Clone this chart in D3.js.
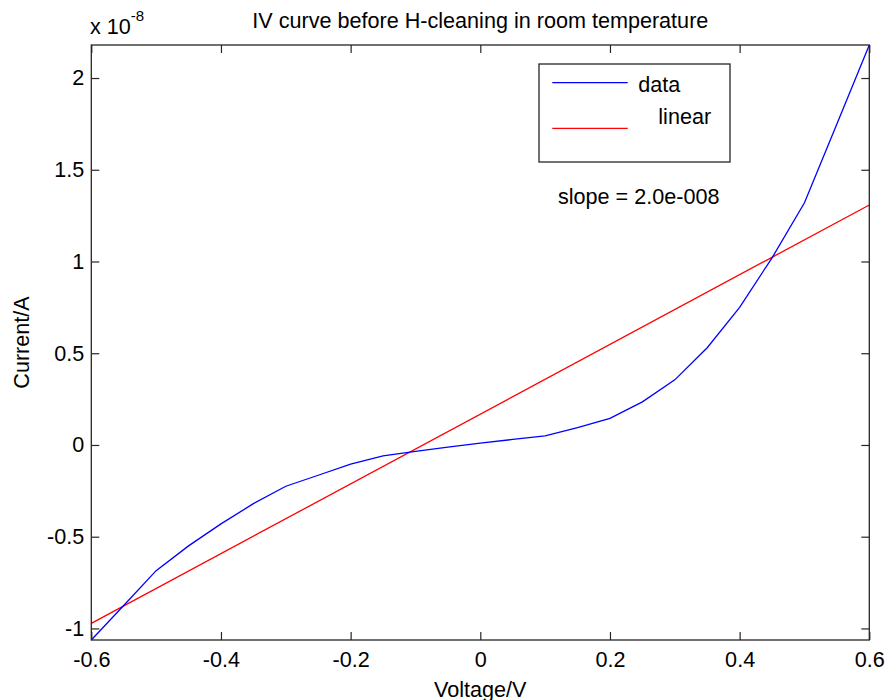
<!DOCTYPE html>
<html>
<head>
<meta charset="utf-8">
<script src="https://cdn.jsdelivr.net/npm/d3@7"></script>
<style>
  html, body { margin: 0; padding: 0; background: #fff; }
  svg { display: block; font-family: "Liberation Sans", Arial, sans-serif; }
</style>
</head>
<body>
<svg id="chart" width="886" height="700"></svg>
<script>
// Measured I-V sweep (current in units of 1e-8 A)
const voltage = [-0.6, -0.55, -0.5, -0.45, -0.4, -0.35, -0.3, -0.25, -0.2, -0.15, -0.1, -0.05,
                 0, 0.05, 0.1, 0.15, 0.2, 0.25, 0.3, 0.35, 0.4, 0.45, 0.5, 0.55, 0.6];
const current = [-1.063, -0.875, -0.685, -0.55, -0.43, -0.32, -0.225, -0.165, -0.105, -0.06, -0.035, -0.012,
                 0.01, 0.03, 0.05, 0.095, 0.145, 0.235, 0.355, 0.53, 0.75, 1.02, 1.32, 1.75, 2.18];

// Linear fit of the sweep (current in units of 1e-8 A)
const fitSlope = 1.9;
const fitIntercept = 0.168;
const fitVoltage = [-0.6, 0.6];

const xTicks = [-0.6, -0.4, -0.2, 0, 0.2, 0.4, 0.6];
const yTicks = [-1, -0.5, 0, 0.5, 1, 1.5, 2];
const yDomain = [-1.063, 2.18];

const legendLabels = ["data", "linear"];
const seriesColors = ["#0000ff", "#ff0000"];
const titleText = "IV curve before H-cleaning in room temperature";
const slopeText = "slope = 2.0e-008";

(function draw() {
  const svg = d3.select("#chart");
  const pl = 91.3, pr = 869.3, pt = 45, pb = 640;
  const x = d3.scaleLinear().domain([-0.6, 0.6]).range([pl, pr]);
  const y = d3.scaleLinear().domain(yDomain).range([pb, pt]);

  const axisColor = "#262626";
  const fontSize = 21.6;
  const tickLen = 8;

  // series
  const line = d3.line().x(d => x(d[0])).y(d => y(d[1]));
  svg.append("path")
    .datum(fitVoltage.map(v => [v, fitIntercept + fitSlope * v]))
    .attr("d", line).attr("fill", "none")
    .attr("stroke", seriesColors[1]).attr("stroke-width", 1.3);
  svg.append("path")
    .datum(voltage.map((v, i) => [v, current[i]]))
    .attr("d", line).attr("fill", "none")
    .attr("stroke", seriesColors[0]).attr("stroke-width", 1.3);

  // axes with inward ticks on all four sides
  function styleAxis(g) {
    g.select(".domain").remove();
    g.selectAll(".tick line").attr("stroke", axisColor).attr("stroke-width", 1.2);
    g.selectAll(".tick text").attr("fill", "#000").attr("font-size", fontSize)
      .attr("font-family", "Liberation Sans, Arial, sans-serif");
  }
  const fmt = d => String(d);

  svg.append("g").attr("transform", `translate(0,${pb})`)
    .call(d3.axisBottom(x).tickValues(xTicks).tickFormat(fmt).tickSizeInner(-tickLen).tickSizeOuter(0).tickPadding(12))
    .call(styleAxis);
  svg.append("g").attr("transform", `translate(0,${pt})`)
    .call(d3.axisTop(x).tickValues(xTicks).tickFormat("").tickSizeInner(-tickLen).tickSizeOuter(0))
    .call(styleAxis);
  svg.append("g").attr("transform", `translate(${pl},0)`)
    .call(d3.axisLeft(y).tickValues(yTicks).tickFormat(fmt).tickSizeInner(-tickLen).tickSizeOuter(0).tickPadding(7))
    .call(styleAxis);
  svg.append("g").attr("transform", `translate(${pr},0)`)
    .call(d3.axisRight(y).tickValues(yTicks).tickFormat("").tickSizeInner(-tickLen).tickSizeOuter(0))
    .call(styleAxis);

  // frame
  svg.append("rect").attr("x", pl).attr("y", pt)
    .attr("width", pr - pl).attr("height", pb - pt)
    .attr("fill", "none").attr("stroke", axisColor).attr("stroke-width", 1.3);

  // exponent marker
  const expo = svg.append("text").attr("x", 90).attr("y", 34)
    .attr("font-size", fontSize).attr("fill", "#000");
  expo.append("tspan").text("x 10");
  expo.append("tspan").attr("dy", -13).attr("font-size", 15).text("-8");

  // title and axis labels
  svg.append("text").attr("x", (pl + pr) / 2).attr("y", 28)
    .attr("text-anchor", "middle").attr("font-size", fontSize).attr("fill", "#000").text(titleText);
  svg.append("text").attr("x", (pl + pr) / 2).attr("y", 697)
    .attr("text-anchor", "middle").attr("font-size", fontSize).attr("fill", "#000").text("Voltage/V");
  svg.append("text").attr("transform", `translate(29,${(pt + pb) / 2}) rotate(-90)`)
    .attr("text-anchor", "middle").attr("font-size", fontSize).attr("fill", "#000").text("Current/A");

  // legend
  const lg = svg.append("g");
  lg.append("rect").attr("x", 539).attr("y", 64).attr("width", 191).attr("height", 98)
    .attr("fill", "#fff").attr("stroke", axisColor).attr("stroke-width", 1.3);
  const legendRows = [
    { lineY: 82.7, textX: 638.3, textY: 91.5 },
    { lineY: 128.3, textX: 658.3, textY: 123.5 }
  ];
  legendLabels.forEach((lab, i) => {
    lg.append("line").attr("x1", 552.3).attr("x2", 627.7)
      .attr("y1", legendRows[i].lineY).attr("y2", legendRows[i].lineY)
      .attr("stroke", seriesColors[i]).attr("stroke-width", 1.3);
    lg.append("text").attr("x", legendRows[i].textX).attr("y", legendRows[i].textY)
      .attr("font-size", fontSize).attr("fill", "#000").text(lab);
  });

  // fit annotation
  svg.append("text").attr("x", 558).attr("y", 203.5)
    .attr("font-size", fontSize).attr("fill", "#000").text(slopeText);
})();
</script>
</body>
</html>
